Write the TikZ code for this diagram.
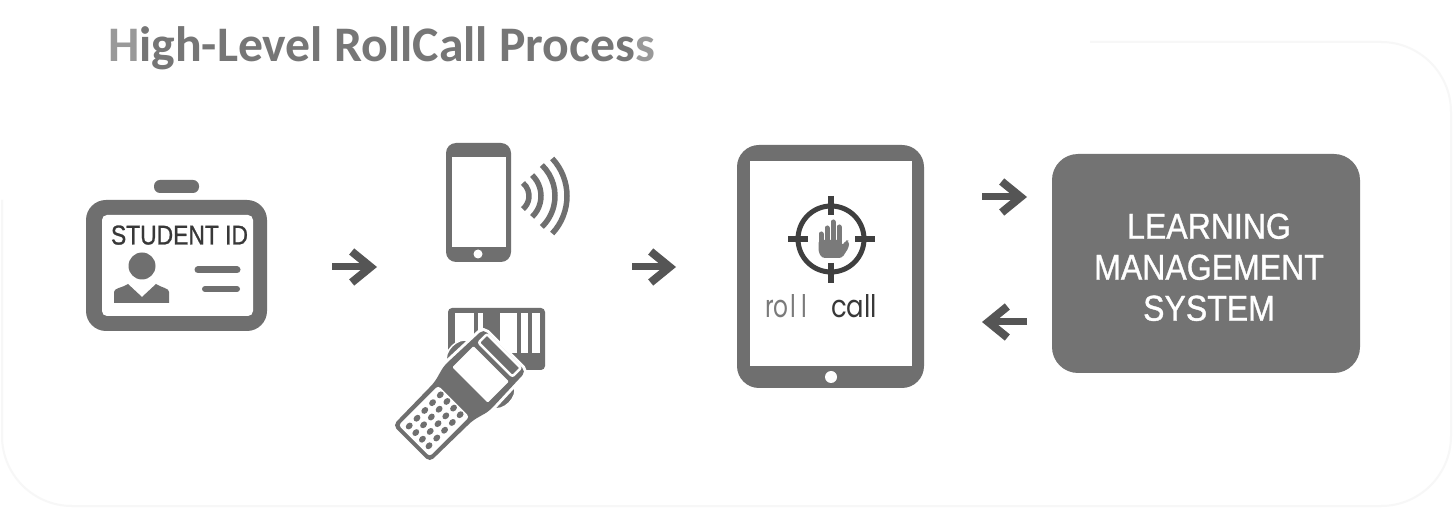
\documentclass[tikz,border=0pt]{standalone}
\usepackage{fontspec}
\setmainfont{Liberation Sans}
\newfontfamily\titlefont{Carlito}
\newfontfamily\logofont{Poppins}
\newfontfamily\heavyfont[FakeBold=1]{Liberation Sans}
\usetikzlibrary{arrows.meta,calc}
\definecolor{icon}{HTML}{6F6F6F}
\definecolor{darkicon}{HTML}{3F3F3F}
\definecolor{arrowc}{HTML}{555555}
\definecolor{lmsc}{HTML}{737373}
\definecolor{handc}{HTML}{7A7A7A}
\definecolor{titlec}{HTML}{767676}
\tikzset{
  block/.style={fill=icon,inner sep=0pt,outer sep=0pt,rounded corners=#1},
  screenbox/.style={fill=white,inner sep=0pt,outer sep=0pt,rounded corners=#1},
  flow/.style={draw=arrowc,line width=7pt,-{Straight Barb[length=19pt,width=31pt,line width=8pt]}},
  lbl/.style={inner sep=0pt,outer sep=0pt,anchor=base west},
  wave/.style={draw=icon,line width=5.5pt},
  key/.style={fill=icon},
  tick/.style={draw=darkicon,line width=6pt},
  finger/.style={draw=handc,line width=5pt,line cap=round},
}
\begin{document}
\begin{tikzpicture}[x=1pt,y=-1pt]
\useasboundingbox (0,0) rectangle (1454,510);
\fill[white] (0,0) rectangle (1454,510);
\draw[draw=black!3,line width=2pt,rounded corners=70pt] (1090,42) -| (1451,506) -| (2,200);

% title
\node[lbl,text=titlec] (title) at (108,62) {\resizebox{547pt}{!}{\titlefont\bfseries\fontsize{50}{50}\selectfont{\color{black!40}H}igh-Level RollCall Proces{\color{black!40}s}}};

% ID card
\node[block=6pt,minimum width=45pt,minimum height=13pt] (clip) at (176.5,186.5) {};
\node[block=20pt,minimum width=181pt,minimum height=131pt] (idcard) at (176.5,265.5) {};
\node[screenbox=5pt,minimum width=151pt,minimum height=101pt] (idface) at (177.5,265.5) {};
\node[lbl,text=black!78] (idtext) at (111,244.5) {\resizebox{137pt}{19pt}{\heavyfont STUDENT ID}};
\fill[icon] (142,266) circle (13.5);
\fill[icon] (114,303) -- (114,292) .. controls (114,288) and (122,288) .. (128,284) -- (142,297) -- (156,284) .. controls (162,288) and (169,288) .. (169,292) -- (169,303) -- cycle;
\draw[icon,line width=7pt,line cap=round] (198,270) -- (237,270);
\draw[icon,line width=6pt,line cap=round] (205,289) -- (237,289);

% phone
\node[block=10pt,minimum width=65pt,minimum height=119pt] (phone) at (478.5,202.5) {};
\node[screenbox=0pt,minimum width=54pt,minimum height=90pt] (phonescreen) at (479,202) {};
\fill[white] (478,254) circle (4.5);
\foreach \r/\a in {17/50,29/46,43/46,55/43}
  \draw[wave] ($(512,196)+(-\a:\r)$) arc[start angle=-\a,end angle=\a,radius=\r];

% barcode
\node[block=4pt,minimum width=97pt,minimum height=62pt] (barcode) at (496.5,339) {};
\foreach \xa/\xb in {455/474,478/483,500/517,521/528,532/540}
  \fill[white] (\xa,313) rectangle (\xb,353);

% scanner
\begin{scope}[shift={(458,397)},rotate=45]
  \foreach \s in {-1,1}
    \filldraw[fill=icon,draw=white,line width=1.5pt] (17,\s*32) .. controls (20,\s*43) and (44,\s*43) .. (47,\s*32) -- cycle;
  \coordinate (scanner) at (0,0);
  \draw[white,line width=6pt,rounded corners=5pt]
     (66,-30) -- (66,30) -- (12,32) -- (-6,27) -- (-66,26) -- (-66,-26) -- (-6,-27) -- (12,-32) -- cycle;
  \fill[icon,rounded corners=5pt]
     (66,-30) -- (66,30) -- (12,32) -- (-6,27) -- (-66,26) -- (-66,-26) -- (-6,-27) -- (12,-32) -- cycle;
  \filldraw[fill=icon,draw=white,line width=2.5pt,rounded corners=2pt] (53,-24) rectangle (65,24);
  \fill[white,rounded corners=1pt] (17,-25) rectangle (47,25);
  \fill[white,rounded corners=3pt] (-62,-22) rectangle (-6,22);
  \foreach \u in {-55,-44,-33,-22,-11}
    \foreach \v in {-14,-4.7,4.7,14}
      \fill[key] (\u,\v) ellipse (3.8 and 3);
\end{scope}

% tablet
\node[block=22pt,minimum width=187pt,minimum height=243pt] (tablet) at (830.5,266.5) {};
\node[screenbox=0pt,minimum width=162pt,minimum height=205pt] (tabletscreen) at (831,263.5) {};
\fill[white] (831,377) circle (6);
\draw[darkicon,line width=5pt] (831,239) circle (33);
\draw[tick] (788,239) -- (808,239);
\draw[tick] (855,239) -- (875,239);
\draw[tick] (831,196) -- (831,215);
\draw[tick] (831,263) -- (831,283);
\draw[finger] (821,250) -- (821,234);
\draw[finger] (827,250) -- (827,228);
\draw[finger] (833,250) -- (833,222);
\draw[finger] (839,250) -- (839,227);
\fill[handc,rounded corners=3pt] (818.5,240) -- (841.5,240) -- (842,246) -- (846,240) -- (849,241) -- (849,247) -- (842,258) -- (822,258) -- (818.5,252) -- cycle;
\node[lbl,text=black!52] (rollword) at (765,318) {\resizebox{42pt}{23pt}{\logofont ro\kern1pt l\kern2pt l}};
\node[lbl,text=black!78] (callword) at (831,318) {\resizebox{46pt}{23pt}{\logofont call}};

% LMS
\node[block=26pt,fill=lmsc,minimum width=308pt,minimum height=219pt] (lms) at (1206,263.5) {};
\node[inner sep=0pt,text=white] (lmstext) at (1209,271.5)
  {\scalebox{.89}[1]{\heavyfont\fontsize{36}{41}\selectfont\begin{tabular}{@{}c@{}}LEARNING\\MANAGEMENT\\SYSTEM\end{tabular}}};

% arrows
\coordinate (a1s) at (332,267); \coordinate (a1e) at (377,267);
\coordinate (a2s) at (632,267); \coordinate (a2e) at (676,267);
\coordinate (a3s) at (982,197); \coordinate (a3e) at (1027,197);
\coordinate (a4s) at (1027,322); \coordinate (a4e) at (982,322);
\draw[flow] (a1s) -- (a1e);
\draw[flow] (a2s) -- (a2e);
\draw[flow] (a3s) -- (a3e);
\draw[flow] (a4s) -- (a4e);
\end{tikzpicture}
\end{document}
